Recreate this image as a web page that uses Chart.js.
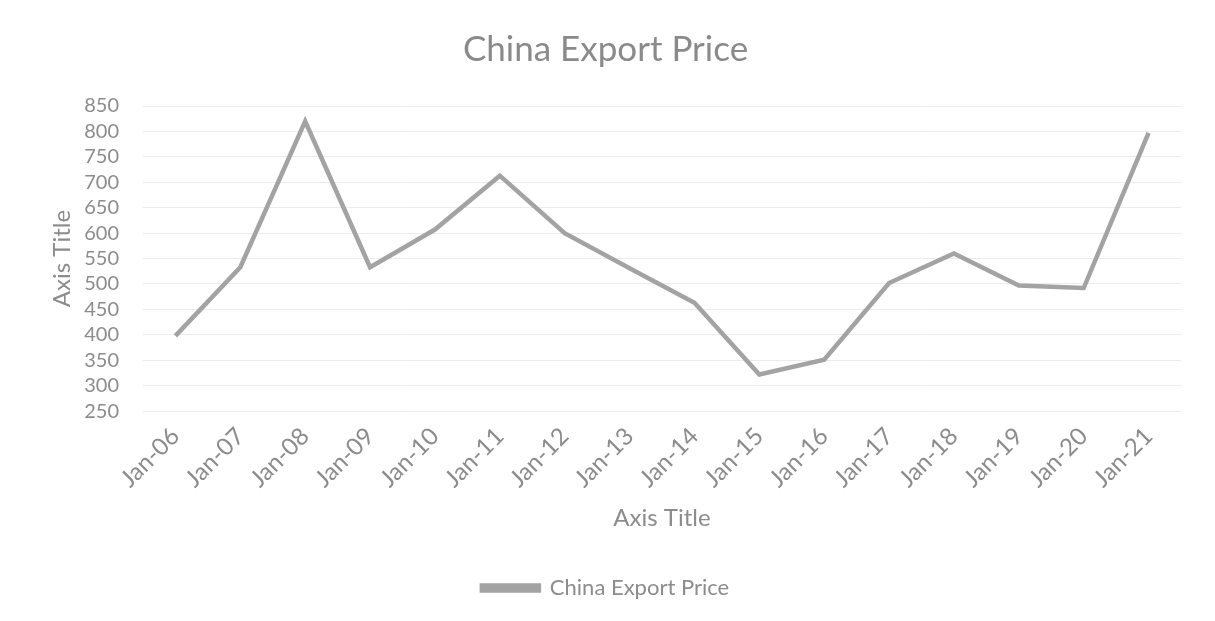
<!DOCTYPE html>
<html>
<head>
<meta charset="utf-8">
<script src="https://cdn.jsdelivr.net/npm/chart.js@4"></script>
<style>
  html, body { margin: 0; padding: 0; background: #fff; }
  #wrap { width: 1215px; height: 621px; }
</style>
</head>
<body>
<div id="wrap"><canvas id="exportPriceChart"></canvas></div>
<script>
var categorias = [
  "Jan-06", "Jan-07", "Jan-08", "Jan-09", "Jan-10", "Jan-11", "Jan-12", "Jan-13",
  "Jan-14", "Jan-15", "Jan-16", "Jan-17", "Jan-18", "Jan-19", "Jan-20", "Jan-21",
];
var exportPrice = [398, 533, 820, 533, 607, 713, 600, 531, 463, 322, 351, 502, 560, 497, 492, 797];
var yMin = 250;
var yMax = 850;
var yStep = 50;

var cinza = "#8c8c8c";
var fonte = "Lato, 'Noto Sans', sans-serif";

var ctx = document.getElementById("exportPriceChart").getContext("2d");
var exportPriceChart = new Chart(ctx, {
  type: "line",
  options: {
    responsive: true,
    maintainAspectRatio: false,
    animation: false,
    layout: {
      padding: { top: 29, right: 34, left: 30, bottom: 12 },
    },
    plugins: {
      legend: {
        position: "bottom",
        labels: {
          color: cinza,
          font: { family: fonte, size: 22 },
          boxWidth: 57,
          boxHeight: 5,
          padding: 10,
        },
      },
      title: {
        display: true,
        text: "China Export Price",
        color: "#8a8a8a",
        font: { family: fonte, size: 35, weight: "normal" },
        padding: { top: 0, bottom: 35 },
      },
      tooltip: { enabled: false },
    },
    scales: {
      x: {
        offset: true,
        grid: { display: false },
        border: { display: false },
        ticks: {
          color: cinza,
          font: { family: fonte, size: 24 },
          maxRotation: 45,
          minRotation: 45,
          padding: 3,
        },
        title: {
          display: true,
          text: "Axis Title",
          color: cinza,
          font: { family: fonte, size: 24 },
          padding: { top: 8, bottom: 34 },
        },
        // os rotulos inclinados podem invadir a area do eixo y
        afterFit: function (scale) {
          scale.paddingLeft = 113;
        },
      },
      y: {
        min: yMin,
        max: yMax,
        grid: { color: "#ececec", drawTicks: false },
        border: { display: false },
        ticks: {
          stepSize: yStep,
          autoSkip: false,
          color: cinza,
          font: { family: fonte, size: 20 },
          padding: 24,
        },
        title: {
          display: true,
          text: "Axis Title",
          color: cinza,
          font: { family: fonte, size: 24 },
          padding: { top: 18, bottom: 2 },
        },
        afterFit: function (scale) {
          scale.width = 113;
        },
      },
    },
  },
  data: {
    labels: categorias,
    datasets: [
      {
        label: "China Export Price",
        data: exportPrice,
        borderColor: "#a3a3a3",
        backgroundColor: "#a3a3a3",
        borderWidth: 4.5,
        pointRadius: 0,
        tension: 0,
        fill: false,
      },
    ],
  },
});
</script>
</body>
</html>
